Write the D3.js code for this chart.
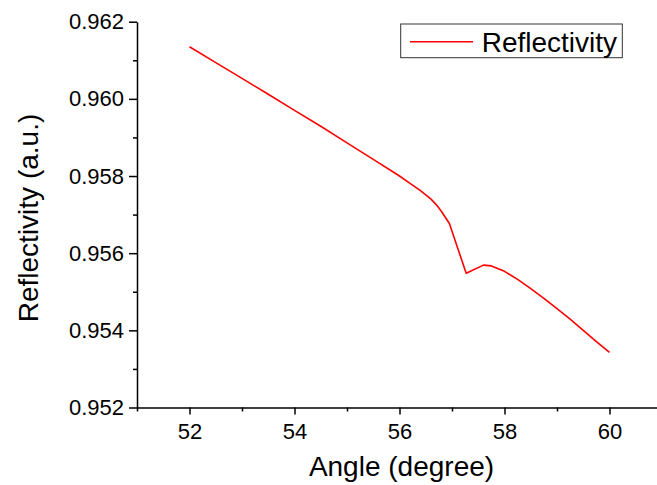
<!DOCTYPE html>
<html>
<head>
<meta charset="utf-8">
<script src="https://cdn.jsdelivr.net/npm/d3@7"></script>
<style>
  html, body { margin: 0; padding: 0; background: #fff; }
  svg { display: block; font-family: "Liberation Sans", Arial, sans-serif; }
</style>
</head>
<body>
<svg id="chart" width="657" height="485"></svg>
<script>
const angles = [52.0, 52.5, 53.0, 53.5, 54.0, 54.5, 55.0, 55.5, 56.0, 56.2, 56.4, 56.6, 56.7, 56.8, 56.95, 57.27, 57.6, 57.75, 58.0, 58.25, 58.5, 58.75, 59.0, 59.25, 59.5, 59.75, 60.0];
const reflectivity = [0.96135, 0.96094, 0.96053, 0.96012, 0.95970, 0.95929, 0.95886, 0.95843, 0.95800, 0.95781, 0.95762, 0.95740, 0.95726, 0.95708, 0.95677, 0.95548, 0.95569, 0.95567, 0.95553, 0.95532, 0.95508, 0.95483, 0.95456, 0.95429, 0.95400, 0.95371, 0.95343];
const xTicks = [52, 54, 56, 58, 60];
const xMinorTicks = [51, 53, 55, 57, 59, 61];
const yTicks = [0.952, 0.954, 0.956, 0.958, 0.960, 0.962];
const yMinorTicks = [0.953, 0.955, 0.957, 0.959, 0.961];
const seriesName = "Reflectivity";
const xTitle = "Angle (degree)";
const yTitle = "Reflectivity (a.u.)";

const svg = d3.select("#chart");
const x = d3.scaleLinear().domain([51, 61]).range([137, 662]);
const y = d3.scaleLinear().domain([0.952, 0.962]).range([407.5, 21.7]);

// x axis
const gx = svg.append("g").attr("transform", `translate(0,${y(0.952)})`);
gx.call(d3.axisBottom(x).tickValues(xMinorTicks).tickSize(4).tickFormat(""));
gx.call(g => g.select(".domain").remove());
const gx2 = svg.append("g").attr("transform", `translate(0,${y(0.952)})`);
gx2.call(d3.axisBottom(x).tickValues(xTicks).tickSize(7).tickSizeOuter(0).tickPadding(9).tickFormat(d3.format("d")));
gx2.selectAll("text").attr("font-size", 22).attr("fill", "#000").attr("font-family", "Liberation Sans, Arial, sans-serif");
gx2.select(".domain").attr("stroke", "#000").attr("stroke-width", 1.5);

// y axis
const gy = svg.append("g").attr("transform", `translate(${x(51)},0)`);
gy.call(d3.axisLeft(y).tickValues(yMinorTicks).tickSize(4).tickFormat(""));
gy.call(g => g.select(".domain").remove());
const gy2 = svg.append("g").attr("transform", `translate(${x(51)},0)`);
gy2.call(d3.axisLeft(y).tickValues(yTicks).tickSize(8).tickSizeOuter(0).tickPadding(5).tickFormat(d3.format(".3f")));
gy2.selectAll("text").attr("font-size", 22).attr("fill", "#000").attr("font-family", "Liberation Sans, Arial, sans-serif");
gy2.select(".domain").attr("stroke", "#000").attr("stroke-width", 1.5);
svg.selectAll(".tick line").attr("stroke", "#000").attr("stroke-width", 1.5);

// line
const data = angles.map((a, i) => ({a, r: reflectivity[i]}));
svg.append("path")
  .datum(data)
  .attr("fill", "none")
  .attr("stroke", "#ff0000")
  .attr("stroke-width", 1.6)
  .attr("stroke-linejoin", "round")
  .attr("d", d3.line().x(d => x(d.a)).y(d => y(d.r)));

// axis titles
svg.append("text")
  .attr("x", 401.5).attr("y", 476)
  .attr("text-anchor", "middle")
  .attr("font-size", 28)
  .attr("fill", "#000")
  .text(xTitle);
svg.append("text")
  .attr("transform", "translate(37.5,218) rotate(-90)")
  .attr("text-anchor", "middle")
  .attr("font-size", 28)
  .attr("fill", "#000")
  .text(yTitle);

// legend
const lg = svg.append("g");
lg.append("rect")
  .attr("x", 400.7).attr("y", 24).attr("width", 221.6).attr("height", 33.7)
  .attr("fill", "#fff").attr("stroke", "#333").attr("stroke-width", 1);
lg.append("line")
  .attr("x1", 410).attr("x2", 473).attr("y1", 41.7).attr("y2", 41.7)
  .attr("stroke", "#ff0000").attr("stroke-width", 1.6);
lg.append("text")
  .attr("x", 481.7).attr("y", 51.7)
  .attr("font-size", 28)
  .attr("fill", "#000")
  .text(seriesName);
</script>
</body>
</html>
